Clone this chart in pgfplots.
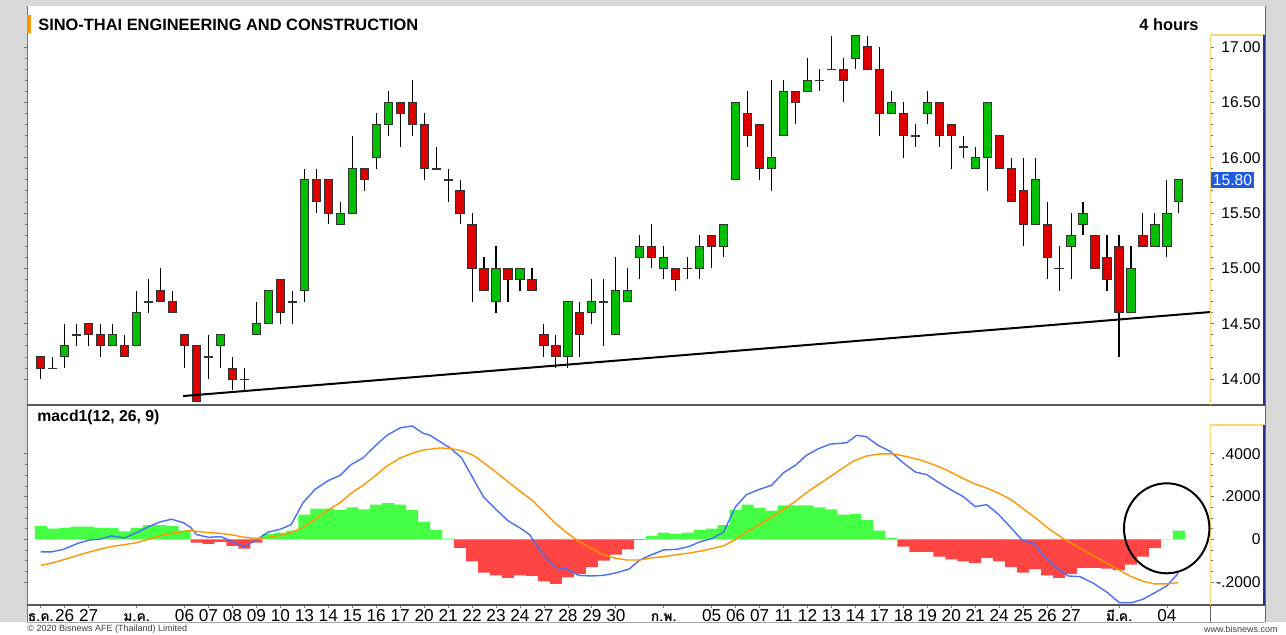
\documentclass[border=0pt]{standalone}
\usepackage{pgfplots}
\pgfplotsset{compat=1.18}
\usepackage{pgfplotstable}
\usepackage{fontspec}
\setmainfont{Liberation Sans}
\newfontfamily\thaifont[Script=Thai]{Loma}
\newcommand{\thmon}[1]{{\thaifont\bfseries\fontsize{7}{8}\selectfont #1}}
\definecolor{cgreen}{RGB}{0,190,0}
\definecolor{cred}{RGB}{222,0,0}
\definecolor{hgreen}{RGB}{68,255,68}
\definecolor{hred}{RGB}{255,68,68}
\definecolor{macdblue}{RGB}{72,112,240}
\definecolor{sigorange}{RGB}{255,150,0}
\definecolor{bggray}{RGB}{216,216,216}
\definecolor{axyellow}{RGB}{250,215,110}
\definecolor{axblue}{RGB}{40,50,140}
\definecolor{lastblue}{RGB}{30,90,230}

\pgfplotstableread{
i O H L C
0 14.2 14.2 14.0 14.1
1 14.1 14.2 14.1 14.1
2 14.2 14.5 14.1 14.3
3 14.4 14.5 14.3 14.4
4 14.5 14.5 14.3 14.4
5 14.4 14.5 14.2 14.3
6 14.3 14.5 14.3 14.4
7 14.3 14.4 14.2 14.2
8 14.3 14.8 14.3 14.6
9 14.7 14.9 14.6 14.7
10 14.8 15.0 14.7 14.7
11 14.7 14.8 14.6 14.6
12 14.4 14.4 14.1 14.3
13 14.3 14.3 13.8 13.8
14 14.2 14.4 14.0 14.2
15 14.3 14.4 14.1 14.4
16 14.1 14.2 13.9 14.0
17 14.0 14.1 13.9 14.0
18 14.4 14.7 14.4 14.5
19 14.5 14.8 14.5 14.8
20 14.9 14.9 14.5 14.6
21 14.7 14.8 14.5 14.7
22 14.8 15.9 14.7 15.8
23 15.8 15.9 15.5 15.6
24 15.8 15.8 15.4 15.5
25 15.4 15.6 15.4 15.5
26 15.5 16.2 15.5 15.9
27 15.9 15.9 15.7 15.8
28 16.0 16.4 15.9 16.3
29 16.3 16.6 16.2 16.5
30 16.5 16.5 16.1 16.4
31 16.5 16.7 16.2 16.3
32 16.3 16.4 15.8 15.9
33 15.9 16.1 15.9 15.9
34 15.8 15.9 15.6 15.8
35 15.7 15.8 15.4 15.5
36 15.4 15.5 14.7 15.0
37 15.0 15.1 14.8 14.8
38 14.7 15.2 14.6 15.0
39 15.0 15.0 14.7 14.9
40 14.9 15.0 14.8 15.0
41 14.9 15.0 14.8 14.8
42 14.4 14.5 14.2 14.3
43 14.3 14.4 14.1 14.2
44 14.2 14.7 14.1 14.7
45 14.6 14.7 14.2 14.4
46 14.6 14.9 14.5 14.7
47 14.7 14.9 14.3 14.7
48 14.4 15.1 14.4 14.8
49 14.7 15.0 14.7 14.8
50 15.1 15.3 14.9 15.2
51 15.2 15.4 15.0 15.1
52 15.0 15.2 14.9 15.1
53 15.0 15.0 14.8 14.9
54 15.0 15.1 14.9 15.0
55 15.0 15.3 14.9 15.2
56 15.3 15.3 15.0 15.2
57 15.2 15.4 15.1 15.4
58 15.8 16.5 15.8 16.5
59 16.4 16.6 16.1 16.2
60 16.3 16.3 15.8 15.9
61 15.9 16.7 15.7 16.0
62 16.2 16.7 16.2 16.6
63 16.6 16.6 16.3 16.5
64 16.6 16.9 16.6 16.7
65 16.7 16.8 16.6 16.7
66 16.8 17.1 16.8 16.8
67 16.8 16.9 16.5 16.7
68 16.9 17.1 16.8 17.1
69 17.0 17.1 16.8 16.8
70 16.8 17.0 16.2 16.4
71 16.4 16.6 16.4 16.5
72 16.4 16.5 16.0 16.2
73 16.2 16.3 16.1 16.2
74 16.4 16.6 16.3 16.5
75 16.5 16.5 16.1 16.2
76 16.3 16.3 15.9 16.2
77 16.1 16.2 16.0 16.1
78 15.9 16.1 15.9 16.0
79 16.0 16.5 15.7 16.5
80 16.2 16.2 15.9 15.9
81 15.9 16.0 15.6 15.6
82 15.7 16.0 15.2 15.4
83 15.4 16.0 15.4 15.8
84 15.4 15.6 14.9 15.1
85 15.0 15.2 14.8 15.0
86 15.2 15.5 14.9 15.3
87 15.4 15.6 15.3 15.5
88 15.3 15.3 15.0 15.0
89 15.1 15.3 14.8 14.9
90 15.2 15.3 14.2 14.6
91 14.6 15.2 14.6 15.0
92 15.3 15.5 15.2 15.2
93 15.2 15.5 15.2 15.4
94 15.2 15.8 15.1 15.5
95 15.6 15.8 15.5 15.8
}\candles

\pgfplotstableread{
i h
0 0.0625
1 0.05
2 0.053
3 0.059
4 0.059
5 0.053
6 0.053
7 0.0375
8 0.053
9 0.066
10 0.066
11 0.0625
12 0.04
13 -0.016
14 -0.022
15 -0.0125
16 -0.031
17 -0.044
18 -0.016
19 0.025
20 0.031
21 0.04
22 0.116
23 0.144
24 0.144
25 0.137
26 0.15
27 0.14
28 0.162
29 0.169
30 0.162
31 0.137
32 0.081
33 0.044
34 0.003
35 -0.04
36 -0.103
37 -0.156
38 -0.169
39 -0.181
40 -0.169
41 -0.172
42 -0.197
43 -0.209
44 -0.178
45 -0.162
46 -0.131
47 -0.1
48 -0.072
49 -0.047
50 -0.003
51 0.0156
52 0.031
53 0.025
54 0.031
55 0.044
56 0.05
57 0.066
58 0.137
59 0.162
60 0.147
61 0.134
62 0.159
63 0.159
64 0.159
65 0.15
66 0.14
67 0.115
68 0.119
69 0.09
70 0.041
71 0.006
72 -0.034
73 -0.059
74 -0.059
75 -0.081
76 -0.094
77 -0.103
78 -0.112
79 -0.087
80 -0.103
81 -0.131
82 -0.156
83 -0.14
84 -0.169
85 -0.181
86 -0.162
87 -0.134
88 -0.134
89 -0.137
90 -0.144
91 -0.119
92 -0.081
93 -0.041
94 0
95 0.041
}\hist

\pgfplotsset{
  candle/.style 2 args={draw=none, mark=none, mark size=0pt,
    error bars/.cd, y dir=both, y explicit, error mark=none,
    error bar style={draw=#1, line width=#2, solid}, /pgfplots/.cd},
}

\begin{document}
\begin{tikzpicture}
% background and panel
\fill[bggray] (0pt,0pt) rectangle (643pt,-311pt);
\fill[white] (0pt,-311pt) rectangle (643pt,-317pt);
\fill[white] (13.5pt,-3pt) rectangle (632.5pt,-311pt);

\begin{axis}[
  name=price, at={(13.5pt,-202.5pt)}, anchor=south west,
  scale only axis, width=591.75pt, height=199.5pt,
  xmin=-1.15, xmax=97.64, ymin=13.766, ymax=17.370,
  axis line style={draw=none},
  xtick=\empty,
  ytick={14,14.5,15,15.5,16,16.5,17},
  yticklabels={14.00,14.50,15.00,15.50,16.00,16.50,17.00},
  minor y tick num=4,
  ytick pos=both, yticklabel pos=right,
  tick align=outside,
  major tick length=1.5pt, minor tick length=1pt,
  every tick/.style={black!55, line width=0.4pt},
  yticklabel style={font=\fontsize{7.8}{9}\selectfont, anchor=east, xshift=27pt},
]
% wicks
\addplot[candle={black}{0.55pt}]
  table[x=i, y expr={(\thisrow{H}+\thisrow{L})/2}, y error expr={(\thisrow{H}-\thisrow{L})/2}] {\candles};
% body outlines
\addplot[candle={black!80}{4.6pt}]
  table[x=i, y expr={(\thisrow{O}+\thisrow{C})/2}, y error expr={abs(\thisrow{C}-\thisrow{O})/2+0.0045}] {\candles};
% green bodies
\addplot[x filter/.expression={\thisrow{C}>\thisrow{O}+0.001 ? x : nan}, candle={cgreen}{3.6pt}]
  table[x=i, y expr={(\thisrow{O}+\thisrow{C})/2}, y error expr={abs(\thisrow{C}-\thisrow{O})/2-0.0045}] {\candles};
% red bodies
\addplot[x filter/.expression={\thisrow{C}<\thisrow{O}-0.001 ? x : nan}, candle={cred}{3.6pt}]
  table[x=i, y expr={(\thisrow{O}+\thisrow{C})/2}, y error expr={abs(\thisrow{C}-\thisrow{O})/2-0.0045}] {\candles};
% trend line
\addplot[black, line width=1pt] coordinates {(11.89,13.847) (97.64,14.606)};
\end{axis}

\begin{axis}[
  name=macd, at={(13.5pt,-302.5pt)}, anchor=south west,
  scale only axis, width=591.75pt, height=100pt,
  xmin=-1.15, xmax=97.64, ymin=-0.308, ymax=0.629,
  axis line style={draw=none},
  xtick={0,2,4,8,12,14,16,18,20,22,24,26,28,30,32,34,36,38,40,42,44,46,48,52,56,58,60,62,64,66,68,70,72,74,76,78,80,82,84,86,90,94},
  xticklabels={\thmon{ธ.ค.},26,27,\thmon{ม.ค.},06,07,08,09,10,13,14,15,16,17,20,21,22,23,24,27,28,29,30,\thmon{ก.พ.},05,06,07,11,12,13,14,17,18,19,20,21,24,25,26,27,\thmon{มี.ค.},04},
  xtick pos=left,
  ytick={-0.2,0,0.2,0.4},
  yticklabels={-.2000,0,.2000,.4000},
  minor y tick num=3,
  ytick pos=both, yticklabel pos=right,
  tick align=outside,
  major tick length=1.5pt, minor tick length=1pt,
  every tick/.style={black!55, line width=0.4pt},
  yticklabel style={font=\fontsize{7.8}{9}\selectfont, anchor=east, xshift=27pt},
  xticklabel style={font=\fontsize{8.6}{9}\selectfont, text height=6.2pt, text depth=0.4pt, inner sep=0.5pt, yshift=0.4pt},
]
\addplot[ybar, bar width=1, bar shift=0pt, fill=hgreen, draw=none]
  table[x=i, y expr={max(\thisrow{h},0)}] {\hist};
\addplot[ybar, bar width=1, bar shift=0pt, fill=hred, draw=none]
  table[x=i, y expr={min(\thisrow{h},0)}] {\hist};
\addplot[macdblue, line width=0.7pt] coordinates {
(0,-0.059) (0.9,-0.059) (1.9,-0.047) (3.1,-0.019) (4.1,-0.003) (4.9,0.0) (5.9,0.016) (7.0,0.006)
(8.0,0.031) (9.0,0.059) (9.95,0.081) (10.9,0.094) (11.9,0.078) (12.5,0.056) (13.0,0.022) (14.0,0.009)
(15.0,0.0125) (15.7,-0.003) (16.6,-0.025) (17.0,-0.034) (18.0,-0.003) (19.0,0.034) (20.0,0.047)
(20.9,0.069) (21.9,0.172) (22.9,0.234) (24.0,0.275) (25.0,0.3) (25.9,0.35) (26.9,0.381) (27.9,0.437)
(28.9,0.487) (30.0,0.522) (31.0,0.531) (31.9,0.497) (32.5,0.487) (33.3,0.458) (34.16,0.428)
(35.13,0.381) (36.1,0.284) (36.94,0.2) (38.05,0.137) (39.0,0.087) (40.0,0.053) (40.8,0.022)
(41.67,-0.053) (42.9,-0.131) (43.9,-0.14) (44.9,-0.169) (45.9,-0.172) (46.96,-0.169) (47.9,-0.159)
(49.1,-0.14) (50.0,-0.097) (51.0,-0.072) (52.0,-0.05) (53.1,-0.047) (54.1,-0.034) (55.0,-0.0125)
(56.0,0.003) (57.0,0.034) (58.0,0.153) (58.9,0.209) (60.0,0.234) (61.0,0.253) (62.0,0.312)
(63.0,0.347) (63.9,0.393) (64.9,0.424) (65.9,0.446) (66.9,0.45) (67.3,0.453) (68.1,0.487)
(68.9,0.481) (69.9,0.44) (70.9,0.412) (71.9,0.362) (73.0,0.315) (73.95,0.303) (74.9,0.268)
(75.9,0.234) (77.0,0.2) (78.0,0.153) (78.96,0.162) (79.9,0.119) (80.9,0.059) (81.9,-0.003)
(82.85,-0.019) (83.8,-0.081) (84.8,-0.134) (85.77,-0.172) (86.75,-0.175) (87.86,-0.206)
(88.97,-0.247) (90.03,-0.297) (91.06,-0.297) (92.0,-0.281) (93.0,-0.25) (93.98,-0.219) (94.95,-0.16)
};
\addplot[sigorange, line width=0.7pt] coordinates {
(0,-0.122) (0.9,-0.112) (2.0,-0.094) (3.1,-0.075) (4.1,-0.059) (4.9,-0.047) (5.9,-0.034) (7.0,-0.025)
(8.0,-0.016) (9.0,0.0) (9.95,0.016) (10.9,0.028) (11.9,0.037) (12.5,0.041) (13.0,0.037) (14.0,0.031)
(15.0,0.028) (16.1,0.019) (17.0,0.009) (18.0,0.003) (19.0,0.009) (20.0,0.019) (20.9,0.031)
(21.9,0.056) (22.9,0.094) (24.0,0.137) (25.0,0.172) (25.9,0.215) (26.9,0.253) (27.9,0.297)
(28.9,0.343) (30.0,0.381) (31.0,0.403) (31.9,0.418) (32.5,0.422) (33.3,0.428) (34.16,0.425)
(35.13,0.415) (36.1,0.394) (37.1,0.353) (38.05,0.312) (39.0,0.269) (40.0,0.225) (40.98,0.184)
(41.96,0.131) (42.9,0.078) (43.9,0.031) (44.9,-0.009) (45.9,-0.041) (46.8,-0.069) (47.8,-0.087)
(48.9,-0.097) (50.0,-0.097) (51.0,-0.087) (52.0,-0.081) (53.1,-0.072) (54.1,-0.065) (55.0,-0.056)
(56.0,-0.044) (57.0,-0.031) (58.0,0.0) (58.9,0.034) (60.0,0.069) (61.0,0.103) (62.0,0.140)
(63.0,0.178) (63.9,0.218) (64.9,0.256) (65.9,0.293) (66.8,0.328) (67.8,0.365) (68.9,0.39)
(70.05,0.4) (71.2,0.4) (72.3,0.387) (73.4,0.372) (74.5,0.35) (75.6,0.325) (76.7,0.293)
(77.85,0.262) (78.96,0.240) (80.1,0.212) (81.05,0.184) (82.0,0.143) (83.1,0.097) (84.2,0.047)
(85.35,0.003) (86.5,-0.034) (87.6,-0.069) (88.7,-0.103) (89.8,-0.137) (90.9,-0.172) (92.0,-0.197)
(93.0,-0.209) (93.98,-0.209) (94.95,-0.203)
};
\end{axis}

% frame lines
\draw[black!55, line width=0.5pt] (13.5pt,-3pt) -- (13.5pt,-311pt);
\draw[black!65, line width=0.8pt] (13.5pt,-202.5pt) -- (632.5pt,-202.5pt);
\draw[black!65, line width=0.6pt] (13.5pt,-302.5pt) -- (632.5pt,-302.5pt);
\draw[black!35, line width=0.5pt] (13.5pt,-311pt) -- (632.5pt,-311pt);
\draw[black!60, line width=0.5pt] (632.5pt,-3pt) -- (632.5pt,-311pt);
\draw[black!60, line width=0.5pt] (605.25pt,-302.5pt) -- (605.25pt,-311pt);
\draw[axyellow, line width=0.6pt] (605.25pt,-202.5pt) -- (605.25pt,-17.5pt) -- (632pt,-17.5pt);
\draw[axyellow, line width=0.6pt] (605.25pt,-302.5pt) -- (605.25pt,-212.5pt) -- (632pt,-212.5pt);
\draw[axblue, line width=0.6pt] (632pt,-17.5pt) -- (632pt,-202.5pt);
\draw[axblue, line width=0.6pt] (632pt,-212.5pt) -- (632pt,-302.5pt);

% titles
\fill[sigorange] (13.5pt,-7.5pt) rectangle (15.4pt,-16.5pt);
\node[anchor=base west, inner sep=0pt, font=\bfseries\fontsize{8.2}{9}\selectfont] at (19pt,-15pt) {SINO-THAI ENGINEERING AND CONSTRUCTION};
\node[anchor=base east, inner sep=0pt, font=\bfseries\fontsize{8.2}{9}\selectfont] at (599.5pt,-15pt) {4 hours};
\node[anchor=base west, inner sep=0pt, font=\bfseries\fontsize{7.9}{9}\selectfont] at (18.5pt,-210.8pt) {macd1(12, 26, 9)};
% last price box
\node[anchor=west, fill=lastblue, text=white, inner xsep=1pt, inner ysep=1.3pt, font=\fontsize{7.8}{9}\selectfont] at (605.25pt,-90pt) {15.80};
% circle annotation
\draw[black, line width=1pt] (583.35pt,-264.15pt) ellipse [x radius=21.35pt, y radius=22.5pt];
% footer
\node[anchor=west, inner sep=0pt, text=black!75, font=\fontsize{4.5}{5}\selectfont] at (13.5pt,-314.5pt) {\textcopyright{} 2020 Bisnews AFE (Thailand) Limited};
\node[anchor=east, inner sep=0pt, text=black!75, font=\fontsize{4.5}{5}\selectfont] at (639pt,-314.5pt) {www.bisnews.com};

\pgfresetboundingbox
\useasboundingbox (0pt,0pt) rectangle (643pt,-317pt);
\end{tikzpicture}
\end{document}
